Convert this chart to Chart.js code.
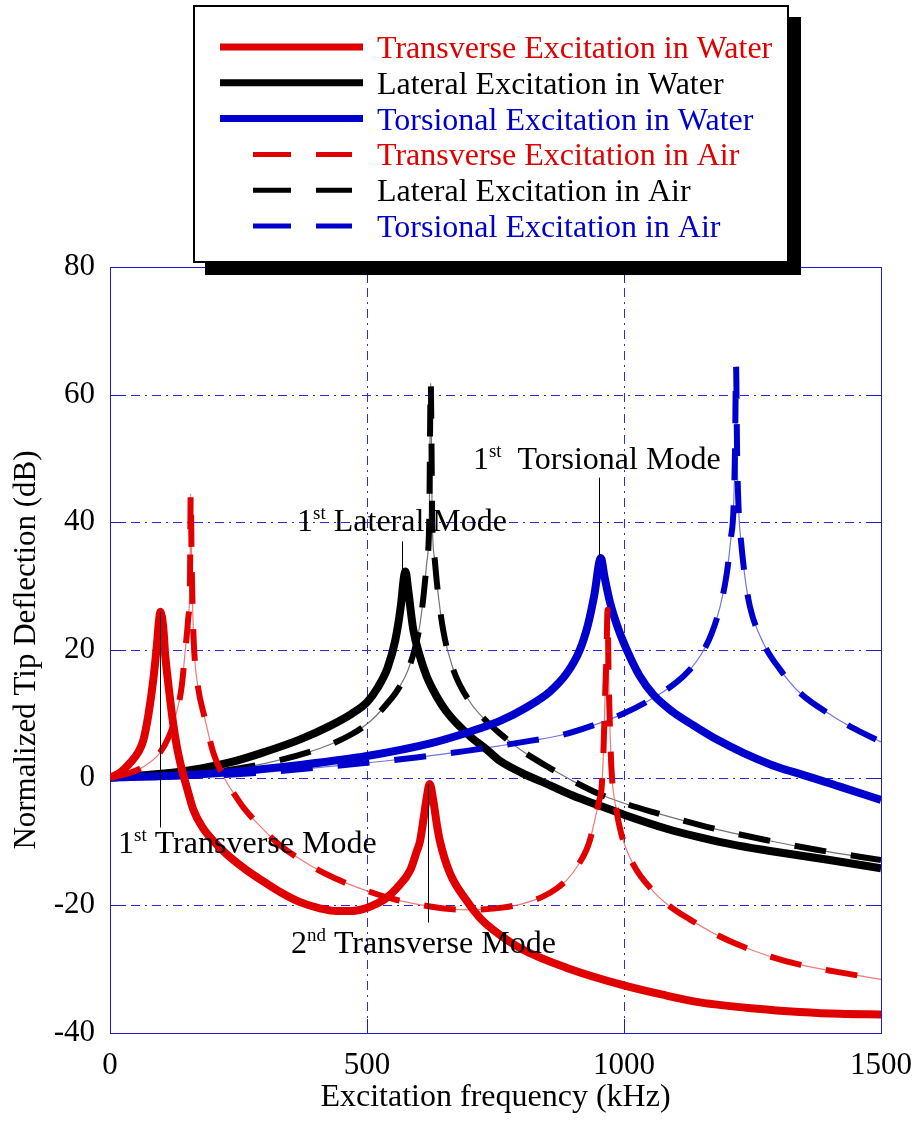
<!DOCTYPE html>
<html>
<head>
<meta charset="utf-8">
<script src="https://cdn.jsdelivr.net/npm/chart.js@4.4.0/dist/chart.umd.min.js"></script>
<style>
  html, body { margin: 0; padding: 0; background: #fff; }
</style>
</head>
<body>
<canvas id="chart" width="916" height="1125"></canvas>
<script>
// Tip deflection (dB) against excitation frequency (kHz), one pair of arrays per case
const freqTransWater = [0, 20, 39, 55, 65, 75, 84, 91, 95, 98, 104, 107, 113, 122, 130, 140, 149, 162, 180, 201, 227, 266, 305, 331, 370, 410, 441, 470, 492, 512, 535, 558, 584, 597, 603, 610, 616, 622, 629, 636, 642, 661, 694, 720, 745, 800, 889, 998, 1075, 1148, 1259, 1342, 1420, 1500]
const dbTransWater = [0, 0.8, 2.3, 4.0, 5.9, 10.0, 15.2, 20.6, 24.3, 26.0, 23.2, 19.6, 15.0, 9.0, 4.9, 1.2, -1.4, -5.0, -7.8, -9.9, -12.0, -14.5, -16.6, -17.9, -19.5, -20.5, -20.9, -20.9, -20.6, -20.0, -19.0, -17.3, -14.5, -11.5, -10.0, -6.5, -3.2, -1.0, -3.6, -7.4, -10.0, -14.9, -19.3, -22.0, -23.8, -26.8, -29.8, -32.5, -34.0, -35.2, -36.2, -36.7, -37.0, -37.1]

const freqLatWater = [0, 100, 175, 239, 300, 370, 430, 470, 500, 520, 540, 555, 566, 572, 575, 580, 590, 603, 616, 635, 655, 700, 733, 759, 800, 856, 900, 953, 1000, 1083, 1150, 1212, 1278, 1400, 1500]
const dbLatWater = [0, 0.6, 1.4, 2.5, 4.0, 6.0, 8.2, 10.0, 11.8, 14.0, 17.2, 21.5, 27.0, 31.5, 32.3, 29.5, 23.2, 19.0, 15.9, 12.8, 10.3, 6.5, 4.4, 2.6, 0.8, -1.2, -2.8, -4.4, -5.8, -8.0, -9.4, -10.5, -11.4, -12.9, -14.2]

const freqTorWater = [0, 120, 239, 370, 500, 629, 700, 759, 810, 856, 890, 914, 930, 942, 955, 962, 973, 988, 1005, 1030, 1057, 1095, 1135, 1180, 1232, 1304, 1342, 1420, 1500]
const dbTorWater = [0, 0.3, 0.9, 2.0, 3.4, 5.5, 7.2, 8.9, 11.0, 13.5, 16.5, 20.0, 24.0, 28.5, 34.4, 31.5, 27.4, 23.5, 20.1, 16.0, 13.0, 10.3, 8.2, 6.0, 3.9, 1.5, 0.6, -1.4, -3.5]

const freqTransAir = [0, 40, 65, 97, 115, 126, 139.5, 146, 152, 155.6, 157, 159, 161, 164, 171, 185, 201, 224, 246, 259, 292, 331, 395, 450, 492, 550, 609, 650, 694, 730, 759, 800, 843, 870, 889, 910, 927, 934, 945, 952, 956, 960, 963, 966, 968, 970, 973, 976, 985, 995, 1018, 1057, 1090, 1128, 1175, 1226, 1280, 1342, 1420, 1500]
const dbTransAir = [0, 0.8, 1.7, 3.9, 6.5, 9.1, 14.3, 19.6, 24.8, 31.0, 44.5, 33.0, 25.8, 19.6, 14.3, 9.1, 3.9, -0.3, -3.1, -4.6, -7.6, -10.6, -14.0, -16.2, -17.5, -19.0, -20.0, -20.5, -20.7, -20.6, -20.4, -19.8, -18.6, -17.3, -16.0, -13.8, -11.3, -9.7, -6.0, -3.5, -2.0, 4.0, 12.2, 19.5, 26.3, 16.0, 7.0, 0.8, -5.0, -8.9, -13.6, -17.8, -20.2, -22.2, -24.4, -26.3, -27.9, -29.3, -30.5, -31.6]

const freqLatAir = [0, 200, 300, 409, 470, 506, 538, 560, 580, 595, 603, 610, 616, 621, 624, 627, 632, 636, 648, 668, 700, 733, 759, 800, 856, 900, 953, 1000, 1057, 1161, 1278, 1375, 1500]
const dbLatAir = [0, 0.9, 2.2, 4.6, 6.8, 8.8, 11.5, 13.8, 16.9, 20.8, 24.0, 28.5, 33.5, 40.0, 61.8, 40.0, 34.0, 30.5, 23.2, 16.9, 11.9, 8.8, 6.9, 4.3, 1.5, -0.5, -2.6, -4.0, -5.4, -7.7, -9.8, -11.3, -12.9]

const freqTorAir = [0, 239, 434, 600, 694, 759, 820, 875, 940, 998, 1051, 1103, 1128, 1150, 1170, 1187, 1200, 1208, 1213, 1216, 1218, 1220, 1223, 1228, 1236, 1245, 1271, 1304, 1342, 1407, 1450, 1500]
const dbTorAir = [0, 0.5, 1.8, 3.2, 4.2, 5.0, 5.8, 6.6, 8.2, 10.0, 12.2, 15.0, 16.9, 19.3, 22.5, 26.8, 32.0, 37.5, 42.0, 51.4, 64.4, 51.0, 42.0, 36.8, 31.0, 26.8, 21.1, 16.9, 13.3, 9.6, 7.6, 5.6]

const seriesLabels = [
  "Transverse Excitation in Water",
  "Lateral Excitation in Water",
  "Torsional Excitation in Water",
  "Transverse Excitation in Air",
  "Lateral Excitation in Air",
  "Torsional Excitation in Air",
]

const xTicks = [0, 500, 1000, 1500]
const yTicks = [-40, -20, 0, 20, 40, 60, 80]

// mode labels: peak frequency, leader line span, text anchor (all in data units)
const modeNotes = [
  { num: "1", sup: "st", text: " Transverse Mode", f: 98, top: 26.0, end: -7.8, tf: 15.6, tv: -11.75 },
  { num: "1", sup: "st", text: " Lateral Mode", f: 569, top: 37.0, end: 32.3, tf: 364, tv: 38.7 },
  { num: "1", sup: "st", text: "  Torsional Mode", f: 952, top: 47.0, end: 34.4, tf: 706, tv: 48.3 },
  { num: "2", sup: "nd", text: " Transverse Mode", f: 618, top: -1.0, end: -22.7, tf: 352, tv: -27.4 },
]

const RED = "#e00000"
const BLACK = "#000000"
const BLUE = "#0000cc"
const GRID = "#2a2ae0"
const FRAME = "#1a1ad0"
const FONT = "'Liberation Serif', 'Times New Roman', serif"

const toPoints = (xs, ys) => xs.map((x, i) => ({ x, y: ys[i] }))

function solid(label, color, xs, ys, order) {
  return {
    label, data: toPoints(xs, ys), borderColor: color, borderWidth: 8,
    order, borderJoinStyle: "round", cubicInterpolationMode: "monotone",
  }
}

function dashed(label, color, xs, ys, order) {
  return {
    label, data: toPoints(xs, ys), borderColor: color, borderWidth: 6,
    borderDash: [32, 25], order, borderJoinStyle: "round", cubicInterpolationMode: "monotone",
  }
}

// thin trace underneath the dashes
function trace(color, xs, ys) {
  return {
    label: "", data: toPoints(xs, ys), borderColor: color, borderWidth: 1.2,
    order: 9, cubicInterpolationMode: "monotone",
  }
}

const frameAndGrid = {
  id: "frameAndGrid",
  beforeDatasetsDraw(chart) {
    const { ctx, chartArea: a, scales: { x, y } } = chart
    ctx.save()
    ctx.strokeStyle = GRID
    ctx.lineWidth = 1
    ctx.setLineDash([9, 5, 2, 5])
    xTicks.forEach(v => {
      const px = Math.round(x.getPixelForValue(v)) + 0.5
      if (px <= a.left + 2 || px >= a.right - 2) return
      ctx.beginPath(); ctx.moveTo(px, a.top); ctx.lineTo(px, a.bottom); ctx.stroke()
    })
    yTicks.forEach(v => {
      const py = Math.round(y.getPixelForValue(v)) + 0.5
      if (py <= a.top + 2 || py >= a.bottom - 2) return
      ctx.beginPath(); ctx.moveTo(a.left, py); ctx.lineTo(a.right, py); ctx.stroke()
    })
    ctx.setLineDash([])
    ctx.strokeStyle = FRAME
    // short inward ticks on all four sides
    yTicks.forEach(v => {
      const py = Math.round(y.getPixelForValue(v)) + 0.5
      ctx.beginPath()
      ctx.moveTo(a.left, py); ctx.lineTo(a.left + 14, py)
      ctx.moveTo(a.right, py); ctx.lineTo(a.right - 14, py)
      ctx.stroke()
    })
    xTicks.forEach(v => {
      const px = Math.round(x.getPixelForValue(v)) + 0.5
      ctx.beginPath()
      ctx.moveTo(px, a.bottom); ctx.lineTo(px, a.bottom - 14)
      ctx.moveTo(px, a.top); ctx.lineTo(px, a.top + 14)
      ctx.stroke()
    })
    ctx.strokeRect(Math.round(a.left) + 0.5, Math.round(a.top) + 0.5,
      Math.round(a.right - a.left), Math.round(a.bottom - a.top))
    ctx.restore()
  },
}

const modeLabels = {
  id: "modeLabels",
  afterDatasetsDraw(chart) {
    const { ctx, scales: { x, y } } = chart
    ctx.save()
    ctx.strokeStyle = "#000"
    ctx.lineWidth = 1
    ctx.fillStyle = "#000"
    ctx.textBaseline = "alphabetic"
    modeNotes.forEach(n => {
      const px = Math.round(x.getPixelForValue(n.f)) + 0.5
      ctx.beginPath()
      ctx.moveTo(px, y.getPixelForValue(n.top))
      ctx.lineTo(px, y.getPixelForValue(n.end))
      ctx.stroke()

      let tx = x.getPixelForValue(n.tf)
      const ty = y.getPixelForValue(n.tv)
      ctx.font = `32px ${FONT}`
      ctx.fillText(n.num, tx, ty)
      tx += ctx.measureText(n.num).width
      ctx.font = `19px ${FONT}`
      ctx.fillText(n.sup, tx, ty - 12)
      tx += ctx.measureText(n.sup).width
      ctx.font = `32px ${FONT}`
      ctx.fillText(n.text, tx, ty)
    })
    ctx.restore()
  },
}

const boxLegend = {
  id: "boxLegend",
  afterDraw(chart) {
    const { ctx } = chart
    const bx = 193, by = 5, bw = 596, bh = 258, shadow = 12
    ctx.save()
    ctx.fillStyle = "#000"
    ctx.fillRect(bx + shadow, by + shadow, bw, bh)
    ctx.fillStyle = "#fff"
    ctx.fillRect(bx, by, bw, bh)
    ctx.strokeStyle = "#000"
    ctx.lineWidth = 2
    ctx.strokeRect(bx + 1, by + 1, bw - 2, bh - 2)

    const items = chart.data.datasets.filter(d => d.label)
    items.forEach((d, i) => {
      const cy = 47 + i * 35.8
      ctx.strokeStyle = d.borderColor
      ctx.setLineDash([])
      ctx.beginPath()
      if (d.borderDash) {
        ctx.lineWidth = 5
        ctx.moveTo(253, cy); ctx.lineTo(291, cy)
        ctx.moveTo(316, cy); ctx.lineTo(352, cy)
      } else {
        ctx.lineWidth = 7
        ctx.moveTo(220, cy); ctx.lineTo(363, cy)
      }
      ctx.stroke()
      ctx.fillStyle = d.borderColor
      ctx.font = `32px ${FONT}`
      ctx.textBaseline = "alphabetic"
      ctx.fillText(d.label, 377, cy + 11)
    })
    ctx.restore()
  },
}

new Chart(document.getElementById("chart"), {
  type: "line",
  data: {
    datasets: [
      solid(seriesLabels[0], RED, freqTransWater, dbTransWater, 0),
      solid(seriesLabels[1], BLACK, freqLatWater, dbLatWater, 2),
      solid(seriesLabels[2], BLUE, freqTorWater, dbTorWater, 1),
      dashed(seriesLabels[3], RED, freqTransAir, dbTransAir, 0),
      dashed(seriesLabels[4], BLACK, freqLatAir, dbLatAir, 2),
      dashed(seriesLabels[5], BLUE, freqTorAir, dbTorAir, 1),
      trace("rgba(235, 100, 100, 0.85)", freqTransAir, dbTransAir),
      trace("rgba(90, 90, 90, 0.85)", freqLatAir, dbLatAir),
      trace("rgba(90, 90, 225, 0.85)", freqTorAir, dbTorAir),
    ],
  },
  options: {
    responsive: false,
    animation: false,
    devicePixelRatio: 1,
    layout: { padding: { top: 267, right: 35, left: 0, bottom: 0 } },
    elements: { point: { radius: 0 } },
    plugins: { legend: { display: false }, tooltip: { enabled: false } },
    scales: {
      x: {
        type: "linear",
        min: 0,
        max: 1500,
        afterFit: s => { s.height = 92; s.paddingLeft = 0; s.paddingRight = 0 },
        afterBuildTicks: s => { s.ticks = xTicks.map(value => ({ value })) },
        grid: { display: false, drawTicks: false },
        border: { display: false },
        ticks: {
          color: "#000", padding: 14, font: { family: FONT, size: 31 },
          callback: v => String(v),
        },
        title: {
          display: true,
          text: "Excitation frequency (kHz)",
          color: "#000",
          font: { family: FONT, size: 32 },
          padding: { top: 0, bottom: 8 },
        },
      },
      y: {
        min: -40,
        max: 80,
        afterFit: s => { s.width = 110 },
        afterBuildTicks: s => { s.ticks = yTicks.map(value => ({ value })) },
        grid: { display: false, drawTicks: false },
        border: { display: false },
        ticks: {
          color: "#000", padding: 15, font: { family: FONT, size: 31 },
          callback: v => String(v),
        },
        title: {
          display: true,
          text: "Normalized Tip Deflection (dB)",
          color: "#000",
          font: { family: FONT, size: 31 },
          padding: { top: 8, bottom: 0 },
        },
      },
    },
  },
  plugins: [frameAndGrid, modeLabels, boxLegend],
})
</script>
</body>
</html>
